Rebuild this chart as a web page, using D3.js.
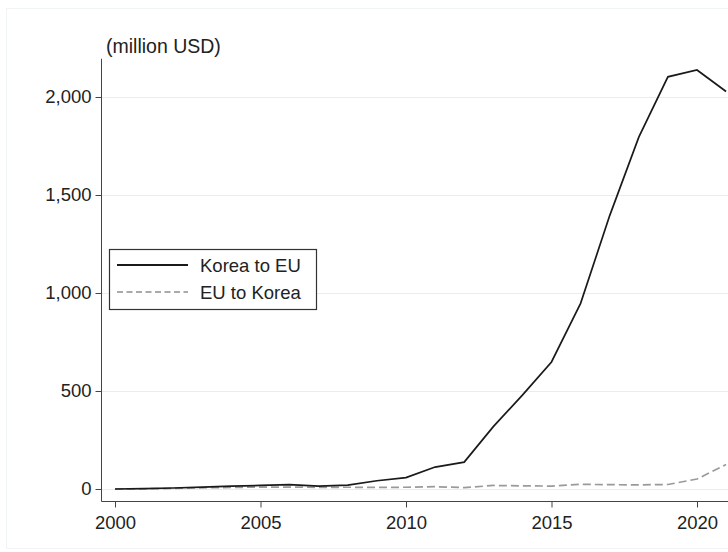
<!DOCTYPE html>
<html>
<head>
<meta charset="utf-8">
<script src="https://cdn.jsdelivr.net/npm/d3@7"></script>
<style>
body { margin: 0; background: #fff; }
text { font-family: Arial, "Liberation Sans", sans-serif; fill: #222; }
</style>
</head>
<body>
<svg id="chart" width="728" height="552"></svg>
<script>
// data
var years = [2000,2001,2002,2003,2004,2005,2006,2007,2008,2009,2010,2011,2012,2013,2014,2015,2016,2017,2018,2019,2020,2021];
var koreaToEU = [0,2,5,10,15,18,22,15,20,42,58,112,137,318,479,648,947,1395,1795,2103,2138,2028];
var euToKorea = [0,1,3,6,8,10,10,8,9,8,9,12,7,18,16,15,24,22,21,23,51,125];
var yTicks = [0,500,1000,1500,2000];
var xTicks = [2000,2005,2010,2015,2020];
var seriesNames = ["Korea to EU", "EU to Korea"];

var svg = d3.select("#chart");

// faint outer frame
svg.append("rect").attr("x", 6.5).attr("y", 8.5).attr("width", 740).attr("height", 540)
  .attr("fill", "none").attr("stroke", "#f1f4f5");

var x = d3.scaleLinear().domain([2000, 2020]).range([115, 697]);
var y = d3.scaleLinear().domain([0, 2000]).range([489, 97]);
var left = 101.5, bottom = 501.5;

// grid
svg.append("g").selectAll("line").data(yTicks).join("line")
  .attr("x1", left).attr("x2", 728)
  .attr("y1", d => Math.round(y(d)) + 0.5).attr("y2", d => Math.round(y(d)) + 0.5)
  .attr("stroke", "#e4eff1").attr("stroke-width", 1.2);

// y axis
var yAxis = d3.axisLeft(y).tickValues(yTicks).tickSize(6).tickPadding(4).tickFormat(d3.format(","));
var gy = svg.append("g").attr("transform", "translate(" + left + ",0)").call(yAxis);
gy.select(".domain").attr("d", "M0," + y(2195) + "V" + bottom);
gy.selectAll("text").attr("font-size", 18.5).attr("fill", "#222").style("font-family", "Arial, 'Liberation Sans', sans-serif");
gy.selectAll("line, .domain").attr("stroke", "#444");

// x axis
var xAxis = d3.axisBottom(x).tickValues(xTicks).tickSize(6).tickPadding(8).tickFormat(d3.format("d"));
var gx = svg.append("g").attr("transform", "translate(0," + bottom + ")").call(xAxis);
gx.select(".domain").attr("d", "M" + left + ",0H740");
gx.selectAll("text").attr("font-size", 18.5).attr("fill", "#222").style("font-family", "Arial, 'Liberation Sans', sans-serif");
gx.selectAll("line, .domain").attr("stroke", "#444");

// unit title
svg.append("text").attr("x", 106).attr("y", 53).attr("font-size", 19.5).text("(million USD)");

// lines
var line = d3.line().x((d, i) => x(years[i])).y(d => y(d));
svg.append("path").datum(euToKorea).attr("d", line)
  .attr("fill", "none").attr("stroke", "#9a9a9a").attr("stroke-width", 1.7).attr("stroke-dasharray", "8,4");
svg.append("path").datum(koreaToEU).attr("d", line)
  .attr("fill", "none").attr("stroke", "#1a1a1a").attr("stroke-width", 1.7);

// legend
var lg = svg.append("g");
lg.append("rect").attr("x", 109.5).attr("y", 249.5).attr("width", 207).attr("height", 60)
  .attr("fill", "#fff").attr("stroke", "#333").attr("stroke-width", 1.2);
seriesNames.forEach(function(name, i) {
  var yy = 265 + i * 27;
  lg.append("line").attr("x1", 117).attr("x2", 188).attr("y1", yy).attr("y2", yy)
    .attr("stroke", i == 0 ? "#1a1a1a" : "#aaaaaa").attr("stroke-width", 1.8)
    .attr("stroke-dasharray", i == 0 ? null : "6,3.5");
  lg.append("text").attr("x", 200).attr("y", yy + 6.5).attr("font-size", 18.5).text(name);
});
</script>
</body>
</html>
